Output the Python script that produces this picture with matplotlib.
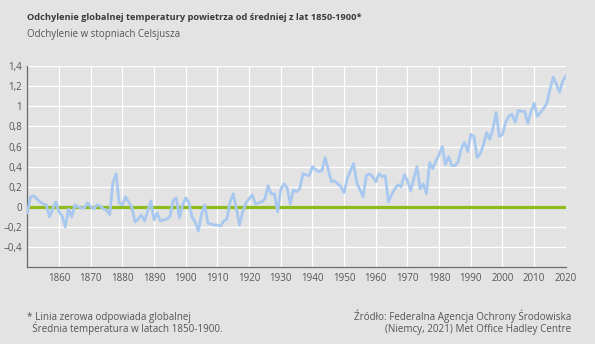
import matplotlib
matplotlib.use("Agg")
import matplotlib.pyplot as plt
import numpy as np

BG = "#e3e3e3"
INK, SEC = "#3a3a3a", "#555555"
LINE_BLUE = "#a9c8ef"
ZERO_GREEN = "#8dbb1c"

# annual anomaly vs. 1850-1900 mean, degC
years = list(range(1850, 2021))
anomaly = [
    -0.06, 0.10, 0.11, 0.08, 0.05, 0.03, 0.02, -0.10, -0.02, 0.05,   # 1850s
    -0.05, -0.09, -0.20, -0.02, -0.10, 0.02, 0.00, -0.01, -0.01, 0.04,  # 1860s
    0.00, -0.02, 0.02, 0.01, -0.02, -0.03, -0.08, 0.24, 0.33, 0.04,   # 1870s
    0.02, 0.10, 0.05, 0.00, -0.15, -0.12, -0.08, -0.14, -0.04, 0.06,  # 1880s
    -0.13, -0.06, -0.14, -0.13, -0.12, -0.10, 0.06, 0.09, -0.11, 0.02,  # 1890s
    0.09, 0.04, -0.10, -0.15, -0.24, -0.07, 0.02, -0.16, -0.17, -0.18,  # 1900s
    -0.18, -0.19, -0.14, -0.12, 0.05, 0.13, -0.02, -0.18, -0.05, 0.04,  # 1910s
    0.08, 0.12, 0.03, 0.04, 0.05, 0.08, 0.21, 0.13, 0.13, -0.05,      # 1920s
    0.17, 0.23, 0.19, 0.03, 0.17, 0.15, 0.18, 0.33, 0.32, 0.31,       # 1930s
    0.40, 0.37, 0.35, 0.36, 0.49, 0.37, 0.25, 0.26, 0.23, 0.20,       # 1940s
    0.14, 0.28, 0.36, 0.43, 0.24, 0.17, 0.10, 0.31, 0.33, 0.30,       # 1950s
    0.25, 0.33, 0.30, 0.31, 0.05, 0.12, 0.18, 0.22, 0.20, 0.32,       # 1960s
    0.26, 0.16, 0.28, 0.40, 0.18, 0.23, 0.13, 0.44, 0.38, 0.46,       # 1970s
    0.52, 0.60, 0.42, 0.50, 0.41, 0.41, 0.45, 0.58, 0.64, 0.55,       # 1980s
    0.72, 0.70, 0.49, 0.53, 0.62, 0.74, 0.67, 0.78, 0.94, 0.70,       # 1990s
    0.72, 0.84, 0.90, 0.92, 0.84, 0.96, 0.95, 0.95, 0.83, 0.95,       # 2000s
    1.03, 0.90, 0.94, 0.98, 1.03, 1.17, 1.29, 1.22, 1.14, 1.25,       # 2010s
    1.30,                                                             # 2020
]

x_ticks = list(range(1860, 2021, 10))
y_ticks = [-0.6, -0.4, -0.2, 0, 0.2, 0.4, 0.6, 0.8, 1.0, 1.2, 1.4]
y_labels = ["", "–0,4", "–0,2", "0", "0,2", "0,4", "0,6", "0,8", "1", "1,2", "1,4"]

plt.rcParams.update({
    "font.family": ["Open Sans", "DejaVu Sans"],
    "text.color": INK,
    "figure.facecolor": BG,
    "axes.facecolor": BG,
    "savefig.facecolor": BG,
})

fig = plt.figure(figsize=(5.95, 3.44), dpi=100)
ax = fig.add_axes([0.0459, 0.223, 0.9051, 0.585])

ax.plot(years, anomaly, color=LINE_BLUE, lw=2.0, solid_joinstyle="round", zorder=3)
ax.axhline(0, color=ZERO_GREEN, lw=2.3, zorder=2)

ax.set_xlim(1850, 2020)
ax.set_ylim(-0.6, 1.4)
ax.set_xticks(x_ticks)
ax.set_xticklabels([str(y) for y in x_ticks], fontsize=7, color=SEC)
ax.set_yticks(y_ticks)
ax.set_yticklabels(y_labels, fontsize=7, color=SEC)
ax.tick_params(length=0, pad=4)
ax.grid(True, color="white", lw=0.9)
ax.set_axisbelow(True)
for side in ("top", "right"):
    ax.spines[side].set_visible(False)
for side in ("left", "bottom"):
    ax.spines[side].set_color("#6a6a6a")
    ax.spines[side].set_linewidth(0.9)

fig.text(0.045, 0.942, "Odchylenie globalnej temperatury powietrza od średniej z lat 1850-1900*",
         fontsize=6.7, fontweight="bold", color=INK, va="baseline")
fig.text(0.045, 0.893, "Odchylenie w stopniach Celsjusza",
         fontsize=7.0, color=SEC, va="baseline")

# footnote and source, one text per line
fig.text(0.045, 0.070, "* Linia zerowa odpowiada globalnej",
         fontsize=7.1, color=SEC, va="baseline")
fig.text(0.045, 0.035, "  Średnia temperatura w latach 1850-1900.",
         fontsize=7.1, color=SEC, va="baseline")
fig.text(0.960, 0.070, "Źródło: Federalna Agencja Ochrony Środowiska",
         fontsize=7.1, color=SEC, va="baseline", ha="right")
fig.text(0.960, 0.035, "(Niemcy, 2021) Met Office Hadley Centre",
         fontsize=7.1, color=SEC, va="baseline", ha="right")

fig.savefig("out.png", dpi=100)
